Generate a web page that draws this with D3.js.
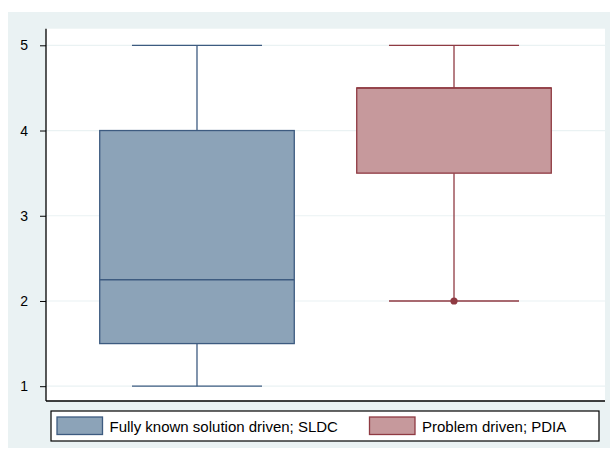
<!DOCTYPE html>
<html>
<head>
<meta charset="utf-8">
<script src="https://cdn.jsdelivr.net/npm/d3@7"></script>
<style>
  body { margin: 0; background: #fff; }
  svg { display: block; font-family: 'Liberation Sans', Arial, sans-serif; }
</style>
</head>
<body>
<svg id="chart"></svg>
<script>
// data
const groups = ['Fully known solution driven; SLDC', 'Problem driven; PDIA'];
const whiskerLow = [1, 2];
const q1 = [1.5, 3.5];
const median = [2.25, 4.5];
const q3 = [4, 4.5];
const whiskerHigh = [5, 5];
const outliers = [[], [2]];
const yTicks = [1, 2, 3, 4, 5];

const fills = ['#8ca3b8', '#c6999c'];
const strokes = ['#3d5b80', '#8f3a42'];

const width = 613, height = 452;
const plot = { left: 46, right: 605, top: 28.7, bottom: 401 };

var svg = d3.select('#chart').attr('width', width).attr('height', height);

// outer background
svg.append('rect')
  .attr('x', 8).attr('y', 12)
  .attr('width', 602).attr('height', 436)
  .attr('fill', '#eaf2f3');

svg.append('rect')
  .attr('x', plot.left).attr('y', plot.top)
  .attr('width', plot.right - plot.left).attr('height', plot.bottom - plot.top)
  .attr('fill', '#ffffff');

// scales
var yScale = d3.scaleLinear().domain([1, 5]).range([386.2, 45.3]);
var xScale = d3.scalePoint().domain(groups).range([plot.left, plot.right]).padding(0.5875);
var step = xScale.step();
var boxW = step * 0.757;
var capW = step * 0.506;

// grid
svg.append('g')
  .selectAll('line')
  .data(yTicks)
  .enter()
  .append('line')
  .attr('x1', plot.left).attr('x2', plot.right)
  .attr('y1', d => yScale(d)).attr('y2', d => yScale(d))
  .attr('stroke', '#eaf2f3')
  .attr('stroke-width', 1.2);

// y axis
var yAxis = svg.append('g')
  .attr('transform', `translate(${plot.left},0)`)
  .call(d3.axisLeft(yScale).tickValues(yTicks).tickSize(6).tickPadding(12).tickFormat(d3.format('d')));
yAxis.select('.domain').remove();
yAxis.selectAll('line').attr('stroke', '#000');
yAxis.selectAll('text').attr('font-size', 14).attr('fill', '#000')
  .attr('font-family', "'Liberation Sans', Arial, sans-serif");

svg.append('line')
  .attr('x1', plot.left).attr('x2', plot.left)
  .attr('y1', plot.top).attr('y2', plot.bottom)
  .attr('stroke', '#000').attr('stroke-width', 1.3);
svg.append('line')
  .attr('x1', plot.left).attr('x2', plot.right)
  .attr('y1', plot.bottom).attr('y2', plot.bottom)
  .attr('stroke', '#000').attr('stroke-width', 1.3);

// boxes
var boxes = svg.selectAll('.box')
  .data(groups)
  .enter()
  .append('g')
  .attr('class', 'box');

boxes.each(function(g, i) {
  var el = d3.select(this);
  var cx = xScale(g);

  // whiskers
  el.append('line')
    .attr('x1', cx).attr('x2', cx)
    .attr('y1', yScale(whiskerHigh[i])).attr('y2', yScale(q3[i]))
    .attr('stroke', strokes[i]).attr('stroke-width', 1.3);
  el.append('line')
    .attr('x1', cx).attr('x2', cx)
    .attr('y1', yScale(q1[i])).attr('y2', yScale(whiskerLow[i]))
    .attr('stroke', strokes[i]).attr('stroke-width', 1.3);
  [whiskerHigh[i], whiskerLow[i]].forEach(v => {
    el.append('line')
      .attr('x1', cx - capW / 2).attr('x2', cx + capW / 2)
      .attr('y1', yScale(v)).attr('y2', yScale(v))
      .attr('stroke', strokes[i]).attr('stroke-width', 1.3);
  });

  // box
  el.append('rect')
    .attr('x', cx - boxW / 2)
    .attr('y', yScale(q3[i]))
    .attr('width', boxW)
    .attr('height', yScale(q1[i]) - yScale(q3[i]))
    .attr('fill', fills[i])
    .attr('stroke', strokes[i])
    .attr('stroke-width', 1.3);

  // median
  el.append('line')
    .attr('x1', cx - boxW / 2).attr('x2', cx + boxW / 2)
    .attr('y1', yScale(median[i])).attr('y2', yScale(median[i]))
    .attr('stroke', strokes[i]).attr('stroke-width', 1.5);

  // outliers
  el.selectAll('circle')
    .data(outliers[i])
    .enter()
    .append('circle')
    .attr('cx', cx)
    .attr('cy', d => yScale(d))
    .attr('r', 3.6)
    .attr('fill', strokes[i]);
});

// legend
var legend = svg.append('g');
legend.append('rect')
  .attr('x', 51).attr('y', 411)
  .attr('width', 548).attr('height', 30)
  .attr('fill', '#fff')
  .attr('stroke', '#000')
  .attr('stroke-width', 1.2);

var legendX = [57, 369.5];
var items = legend.selectAll('.item')
  .data(groups)
  .enter()
  .append('g')
  .attr('class', 'item')
  .attr('transform', (d, i) => `translate(${legendX[i]},417)`);

items.append('rect')
  .attr('width', 45.5).attr('height', 17.5)
  .attr('fill', (d, i) => fills[i])
  .attr('stroke', (d, i) => strokes[i])
  .attr('stroke-width', 1.3);

items.append('text')
  .attr('x', 52.5)
  .attr('y', 15)
  .attr('font-size', 15)
  .attr('fill', '#000')
  .text(d => d);
</script>
</body>
</html>
